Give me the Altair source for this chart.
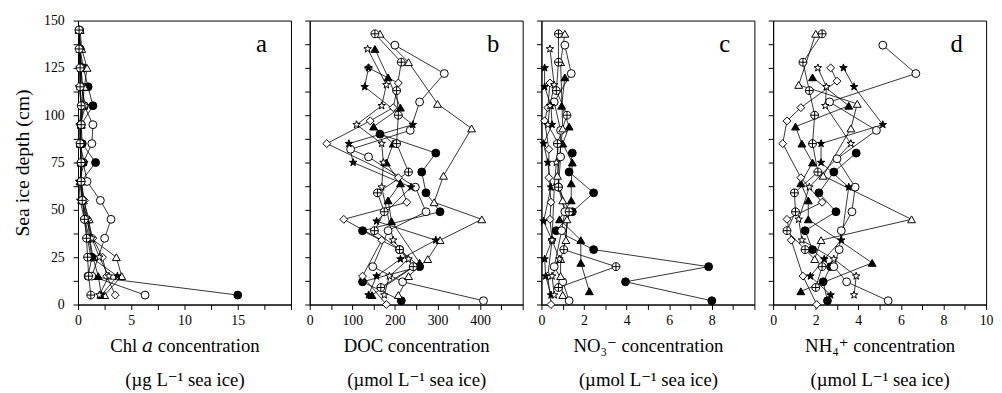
import altair as alt
import pandas as pd

SERIF = "Liberation Serif"
TITLE_FONT = "Liberation Serif, DejaVu Serif, serif"

SERIES = ["filled circle", "open circle", "filled triangle", "open triangle",
          "open diamond", "filled star", "open star", "crossed circle"]
STAR = ("M0,-1L0.235,-0.324L0.951,-0.309L0.38,0.124L0.588,0.809L0,0.4"
        "L-0.588,0.809L-0.38,0.124L-0.951,-0.309L-0.235,-0.324Z")
CROSS = "M-1,0A1,1,0,1,1,1,0A1,1,0,1,1,-1,0ZM-1,0L1,0M0,-1L0,1"
SHAPES = ["circle", "circle", "triangle-up", "triangle-up", "diamond", STAR, STAR, CROSS]
FILLS = ["black", "white", "black", "white", "white", "black", "white", "white"]
SIZES = [64, 64, 70, 70, 70, 110, 110, 72]

# ---- panel a : Chl a (ug/L), depths shared by all cores ----
DEPTH_A = [5, 15, 25, 35, 45, 55, 65, 75, 85, 95, 105, 115, 125, 135, 145]
A_FC = [15.0, 0.95, 1.3, 1.05, 0.65, 0.45, 0.3, 1.65, 0.4, 0.3, 1.4, 0.95, 0.5, 0.2, 0.15]
A_OC = [6.3, 1.3, None, 2.5, 3.1, 2.1, 0.85, 0.5, 1.3, 1.4, 0.6, 0.4, 0.3, 0.2, 0.1]
A_FT = [2.2, 1.9, 1.4, 1.1, 0.9, 0.4, 0.2, 0.3, 0.2, 0.3, 0.5, 0.4, 0.3, 0.2, 0.1]
A_OT = [2.5, 4.1, 3.6, 1.2, 1.05, 0.5, 0.3, 0.3, 0.2, 0.3, 0.4, 0.6, 0.85, 0.35, 0.2]
A_OD = [3.5, 2.7, 2.3, 1.4, 0.9, 0.6, 0.3, 0.2, 0.3, 0.2, 0.35, 0.2, 0.3, 0.2, 0.1]
A_FS = [2.2, 3.7, 1.2, 0.9, 0.6, 0.2, 0.1, 0.6, 0.15, 0.15, 0.3, 0.1, 0.15, 0.1, 0.1]
A_OS = [2.0, 2.9, 2.0, 1.3, 0.8, 0.4, 0.2, 0.4, 0.3, 0.2, 0.7, 0.3, 0.2, 0.2, 0.1]
A_CC = [1.2, 1.0, 0.9, 0.8, 0.6, 0.4, 0.3, 0.3, 0.2, 0.3, 0.3, 0.2, 0.2, 0.1, 0.1]

# ---- panel b : DOC (umol/L), (depth, value) ----
B_FC = [(2, 215), (12, 124), (20, 258), (29, 211), (39, 124), (49, 306), (59, 273), (70, 263), (80, 296), (90, 165)]
B_OC = [(2, 408), (12, 218), (20, 148), (39, 184), (49, 273), (62, 248), (78, 138), (82, 96), (92, 236), (107, 258), (122, 316), (137, 200)]
B_FT = [(5, 146), (22, 258), (44, 192), (55, 184), (64, 213), (75, 180), (85, 196), (94, 150), (104, 213), (120, 184), (135, 153)]
B_OT = [(5, 208), (15, 232), (24, 277), (34, 306), (45, 404), (54, 292), (68, 314), (93, 380), (106, 300), (128, 232), (143, 165)]
B_OD = [(0, 180), (15, 124), (34, 169), (45, 80), (54, 228), (67, 208), (85, 40), (97, 142), (104, 196), (117, 208), (125, 138)]
B_FS = [(5, 138), (15, 157), (24, 213), (34, 296), (44, 157), (62, 238), (75, 102), (85, 92), (95, 242), (115, 129), (125, 138)]
B_OS = [(5, 175), (15, 187), (24, 232), (34, 196), (62, 169), (75, 173), (85, 169), (95, 110), (105, 169), (116, 180), (135, 136)]
B_CC = [(9, 167), (20, 243), (29, 211), (39, 152), (49, 175), (59, 159), (70, 232), (85, 204), (100, 208), (113, 204), (128, 215), (143, 153)]

# ---- panel c : NO3- (umol/L) ----
C_FC = [(2, 8.0), (12, 3.95), (20, 7.85), (29, 2.45), (39, 0.7), (49, 1.45), (59, 2.45), (70, 1.3), (80, 1.45)]
C_OC = [(2, 1.3), (12, 1.0), (20, 0.6), (39, 0.95), (49, 1.1), (62, 0.8), (78, 0.9), (92, 0.9), (107, 0.6), (122, 1.4), (137, 1.1)]
C_FT = [(7, 2.25), (22, 1.85), (34, 1.85), (45, 0.85), (55, 1.4), (64, 1.4), (75, 1.45), (85, 1.0), (94, 1.3), (105, 0.95), (120, 1.1)]
C_OT = [(5, 1.0), (15, 0.9), (24, 0.9), (34, 1.15), (45, 1.2), (55, 1.0), (68, 0.75), (93, 1.0), (128, 0.9), (143, 1.1)]
C_OD = [(0, 0.45), (15, 0.3), (34, 0.5), (45, 0.4), (54, 0.45), (67, 0.35), (82, 0.35), (97, 0.15), (104, 0.3), (117, 0.4)]
C_FS = [(5, 0.45), (15, 0.2), (24, 0.15), (34, 0.5), (44, 0.1), (62, 0.45), (75, 0.3), (85, 0.1), (95, 0.5), (105, 0.45), (115, 0.15), (125, 0.15)]
C_OS = [(5, 0.6), (15, 0.5), (24, 0.85), (34, 0.5), (62, 0.6), (75, 0.7), (85, 0.8), (95, 0.3), (105, 0.4), (116, 0.6), (135, 0.4)]
C_CC = [(9, 0.8), (20, 3.5), (29, 1.05), (49, 1.3), (62, 0.8), (85, 0.75), (100, 1.2), (113, 0.7), (128, 0.8), (143, 0.8)]

# ---- panel d : NH4+ (umol/L) ----
D_FC = [(2, 2.55), (12, 2.35), (20, 2.7), (29, 1.85), (39, 1.5), (49, 2.95), (59, 2.15), (70, 2.85), (80, 3.9)]
D_OC = [(2, 5.4), (12, 3.45), (20, 2.85), (29, 3.1), (39, 3.2), (49, 3.7), (62, 3.85), (77, 3.0), (92, 4.85), (107, 2.65), (122, 6.7), (137, 5.15)]
D_FT = [(7, 1.3), (22, 4.65), (45, 1.65), (55, 1.65), (64, 1.3), (75, 1.85), (85, 1.35), (94, 1.05), (105, 3.55), (120, 1.85)]
D_OT = [(24, 1.95), (34, 2.25), (45, 6.5), (68, 2.35), (93, 3.65), (106, 3.95), (116, 1.2), (143, 2.0)]
D_OD = [(0, 2.05), (15, 1.4), (34, 0.85), (45, 0.65), (54, 2.3), (67, 1.3), (85, 0.45), (97, 0.65), (104, 1.3), (118, 3.0), (125, 2.7)]
D_FS = [(5, 2.7), (15, 1.75), (24, 2.4), (34, 3.2), (62, 3.55), (75, 2.25), (85, 2.25), (95, 5.15), (115, 3.8), (125, 3.3)]
D_OS = [(5, 3.8), (15, 3.9), (24, 2.85), (34, 1.35), (45, 1.2), (62, 1.7), (85, 3.65), (105, 2.45), (115, 2.5), (125, 2.1)]
D_CC = [(9, 2.0), (20, 2.3), (29, 1.5), (39, 0.65), (49, 1.05), (59, 1.0), (70, 2.1), (85, 1.85), (100, 1.95), (113, 1.7), (128, 1.4), (143, 2.3)]

X_TITLES = [["Chl \U0001D44E concentration", "(\u00b5g L\u207b\u00b9 sea ice)"],
            ["DOC concentration", "(\u00b5mol L\u207b\u00b9 sea ice)"],
            ["NO\u2083\u207b concentration", "(\u00b5mol L\u207b\u00b9 sea ice)"],
            ["NH\u2084\u207a concentration", "(\u00b5mol L\u207b\u00b9 sea ice)"]]
LETTERS = ["a", "b", "c", "d"]
X_MAX = [20, 500, 10, 10]
X_STEP = [2.5, 50, 1, 1]
X_MAJOR = [5, 100, 2, 2]
X_LABEL_MAX = [15, 400, 8, 10]
Y_TITLE = "Sea ice depth (cm)"

W, H = 216, 288


def frame_a():
    recs = []
    for name, vals in zip(SERIES, [A_FC, A_OC, A_FT, A_OT, A_OD, A_FS, A_OS, A_CC]):
        for d, v in zip(DEPTH_A, vals):
            if v is not None:
                recs.append({"series": name, "depth": d, "value": v})
    return pd.DataFrame(recs)


def frame_pairs(lists):
    recs = []
    for name, pts in zip(SERIES, lists):
        for d, v in pts:
            recs.append({"series": name, "depth": d, "value": v})
    return pd.DataFrame(recs)


frames = [frame_a(),
          frame_pairs([B_FC, B_OC, B_FT, B_OT, B_OD, B_FS, B_OS, B_CC]),
          frame_pairs([C_FC, C_OC, C_FT, C_OT, C_OD, C_FS, C_OS, C_CC]),
          frame_pairs([D_FC, D_OC, D_FT, D_OT, D_OD, D_FS, D_OS, D_CC])]

shape_scale = alt.Scale(domain=SERIES, range=SHAPES)
fill_scale = alt.Scale(domain=SERIES, range=FILLS)
size_scale = alt.Scale(domain=SERIES, range=SIZES)

y_values = [i * 12.5 for i in range(13)]


def panel(i):
    df = frames[i]
    n = int(round(X_MAX[i] / X_STEP[i]))
    x_values = [round(k * X_STEP[i], 4) for k in range(n + 1)]
    maj = X_MAJOR[i]
    lab_expr = (f"(abs(datum.value/{maj} - round(datum.value/{maj})) < 0.0001 && "
                f"datum.value <= {X_LABEL_MAX[i]}) ? datum.label : ''")
    x = alt.X("value:Q",
              scale=alt.Scale(domain=[0, X_MAX[i]], nice=False, zero=True),
              axis=alt.Axis(values=x_values, labelExpr=lab_expr, title=X_TITLES[i],
                            titleLineHeight=34, titlePadding=10, labelPadding=4,
                            labelFlush=False, labelOverlap=False))
    y_axis_kwargs = dict(values=y_values, labelOverlap=False, labelFlush=False,
                         labelPadding=9, titlePadding=11, titleFontSize=20)
    if i == 0:
        y_axis_kwargs["labelExpr"] = "(datum.value % 25 == 0) ? datum.label : ''"
        y_axis_kwargs["title"] = Y_TITLE
    else:
        y_axis_kwargs["labels"] = False
        y_axis_kwargs["title"] = None
    y = alt.Y("depth:Q", scale=alt.Scale(domain=[0, 150], nice=False),
              axis=alt.Axis(**y_axis_kwargs))

    base = alt.Chart(df)
    lines = base.mark_line(color="black", strokeWidth=0.8).encode(
        x=x, y=y, detail="series:N", order="depth:Q")
    pts = base.mark_point(filled=True, stroke="black", strokeWidth=1,
                          opacity=1, fillOpacity=1, strokeOpacity=1).encode(
        x=x, y=y,
        shape=alt.Shape("series:N", scale=shape_scale, legend=None),
        fill=alt.Fill("series:N", scale=fill_scale, legend=None),
        size=alt.Size("series:N", scale=size_scale, legend=None))
    letter = alt.Chart(pd.DataFrame({"t": [LETTERS[i]]})).mark_text(
        font=SERIF, fontSize=25, align="center", baseline="middle", color="black"
    ).encode(text="t:N", x=alt.value(W - 30), y=alt.value(24))
    return alt.layer(lines, pts, letter).properties(width=W, height=H)


chart = alt.hconcat(*[panel(i) for i in range(4)], spacing=12).configure_view(
    stroke="black", strokeWidth=1
).configure_axis(
    domainColor="black", tickColor="black", labelColor="black", titleColor="black",
    labelFont=SERIF, titleFont=TITLE_FONT, labelFontSize=14, titleFontSize=19,
    titleFontWeight="normal", tickSize=5, grid=False, domainWidth=1, tickWidth=1
).properties(
    padding={"left": 4, "top": 2, "right": 0, "bottom": 0},
    background="white"
)

chart.save("out.html", embed_options={"renderer": "svg", "actions": False})
